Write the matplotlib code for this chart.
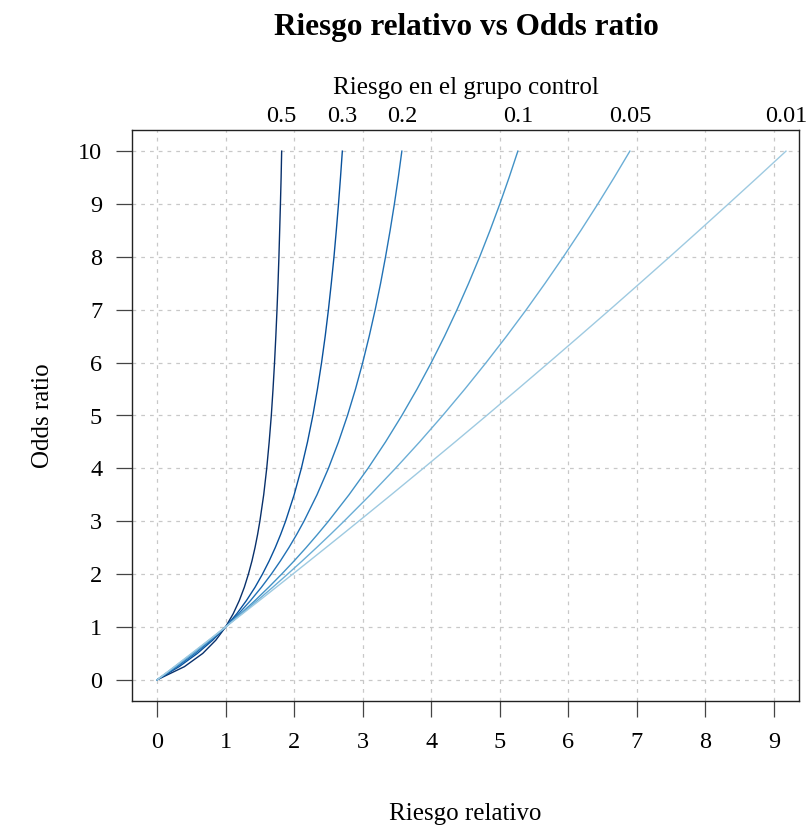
import matplotlib
matplotlib.use("Agg")
import matplotlib.pyplot as plt

# odds ratio grid and relative risk
odds_ratio = [0, 0.25, 0.5, 0.75, 1, 1.25, 1.5, 1.75, 2, 2.25, 2.5, 2.75, 3,
              3.5, 4, 4.5, 5, 5.5, 6, 6.5, 7, 7.5, 8, 8.5, 9, 9.5, 10]
risk_labels = ['0.5', '0.3', '0.2', '0.1', '0.05', '0.01']
rr_05 = [0, 0.400, 0.667, 0.857, 1, 1.111, 1.200, 1.273, 1.333, 1.385, 1.429, 1.467, 1.500,
         1.556, 1.600, 1.636, 1.667, 1.692, 1.714, 1.733, 1.750, 1.765, 1.778, 1.789, 1.800, 1.810, 1.818]
rr_03 = [0, 0.323, 0.588, 0.811, 1, 1.163, 1.304, 1.429, 1.538, 1.636, 1.724, 1.803, 1.875,
         2.000, 2.105, 2.195, 2.273, 2.340, 2.400, 2.453, 2.500, 2.542, 2.581, 2.615, 2.647, 2.676, 2.703]
rr_02 = [0, 0.294, 0.556, 0.789, 1, 1.190, 1.364, 1.522, 1.667, 1.800, 1.923, 2.037, 2.143,
         2.333, 2.500, 2.647, 2.778, 2.895, 3.000, 3.095, 3.182, 3.261, 3.333, 3.400, 3.462, 3.519, 3.571]
rr_01 = [0, 0.270, 0.526, 0.769, 1, 1.220, 1.429, 1.628, 1.818, 2.000, 2.174, 2.340, 2.500,
         2.800, 3.077, 3.333, 3.571, 3.793, 4.000, 4.194, 4.375, 4.545, 4.706, 4.857, 5.000, 5.135, 5.263]
rr_005 = [0, 0.260, 0.513, 0.759, 1, 1.235, 1.463, 1.687, 1.905, 2.118, 2.326, 2.529, 2.727,
          3.111, 3.478, 3.830, 4.167, 4.490, 4.800, 5.098, 5.385, 5.660, 5.926, 6.182, 6.429, 6.667, 6.897]
rr_001 = [0, 0.252, 0.503, 0.752, 1, 1.247, 1.493, 1.737, 1.980, 2.222, 2.463, 2.703, 2.941,
          3.415, 3.883, 4.348, 4.808, 5.263, 5.714, 6.161, 6.604, 7.042, 7.477, 7.907, 8.333, 8.756, 9.174]
curves = [rr_05, rr_03, rr_02, rr_01, rr_005, rr_001]
colors = ['#08306B', '#08519C', '#2171B5', '#4292C6', '#6BAED6', '#9ECAE1']

plt.rcParams['font.family'] = ['Liberation Serif', 'DejaVu Serif']

fig = plt.figure(figsize=(8.11, 8.30), dpi=100)
ax = fig.add_axes([132/811, 1 - 701/830, 667/811, 571/830])

for rr, col in zip(curves, colors):
    ax.plot(rr, odds_ratio, color=col, linewidth=1.0)

ax.set_xlim(-0.365, 9.364)
ax.set_ylim(-0.4, 10.4)
ax.set_xticks(range(0, 10))
ax.set_yticks(range(0, 11))
ax.grid(True, color='#c8c8c8', linestyle=(0, (3, 4)), linewidth=0.9)
ax.tick_params(axis='both', direction='out', length=11.5, width=0.9,
               color='#444444', labelsize=17.5)
ax.tick_params(axis='x', pad=11)
ax.tick_params(axis='y', pad=10)
for s in ax.spines.values():
    s.set_linewidth(1.0)
    s.set_color('#222222')

ax.set_xlabel('Riesgo relativo', fontsize=18, labelpad=36)
ax.set_ylabel('Odds ratio', fontsize=18, labelpad=17)

top = ax.secondary_xaxis('top')
top.set_xticks([rr[-1] for rr in curves])
top.set_xticklabels(risk_labels)
top.tick_params(length=0, labelsize=17.5, pad=2)
top.spines['top'].set_visible(False)
top.set_xlabel('Riesgo en el grupo control', fontsize=18, labelpad=9)

fig.suptitle('Riesgo relativo vs Odds ratio', fontsize=22.5, fontweight='bold',
             x=466/811, y=0.984)

fig.savefig('out.png', dpi=100)
